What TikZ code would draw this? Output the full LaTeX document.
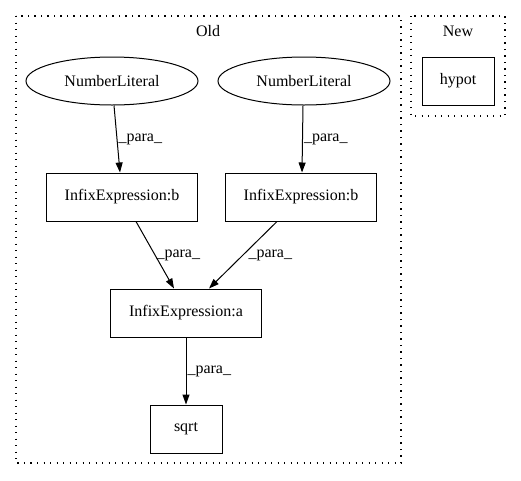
\documentclass[tikz,border=0pt]{standalone}
\usepackage{fontspec}
\setmainfont{Liberation Serif}
\usetikzlibrary{arrows.meta,shapes.geometric}

\begin{document}
\begin{tikzpicture}[x=1pt, y=-1pt, font=\fontsize{16}{18}\selectfont, line width=1pt,
    box/.style={draw, rectangle, minimum width=#1, minimum height=48pt, inner sep=0pt},
    lit/.style={draw, ellipse, minimum width=172pt, minimum height=48pt, inner sep=0pt},
    cluster/.style={draw, dash pattern=on 1.4pt off 5.1pt, line width=1.2pt},
    edge/.style={-{Triangle[length=10pt, width=7pt]}, line width=1pt},
    lbl/.style={midway, right, inner sep=1pt}]
    \useasboundingbox (0,0) rectangle (521,480);
    % clusters
    \draw[cluster] (16,16) rectangle (401,463);
    \draw[cluster] (411,16) rectangle (505,116);
    \node (old) at (208,31) {Old};
    \node (new) at (458,31) {New};

    \node[lit] (n1) at (112,81) {NumberLiteral};
    \node[lit] (n2) at (304,81) {NumberLiteral};
    \node[box=151pt] (b1) at (122,197) {InfixExpression:b};
    \node[box=151pt] (b2) at (301,197) {InfixExpression:b};
    \node[box=151pt] (a) at (186,313) {InfixExpression:a};
    \node[box=72pt] (sqrt) at (186,429) {sqrt};
    \node[box=72pt] (hypot) at (458,81) {hypot};

    \draw[edge] (n1.south -| 114,0) -- (b1.north -| 120,0) node[lbl] {\_para\_};
    \draw[edge] (n2.south -| 303,0) -- (b2.north -| 302,0) node[lbl] {\_para\_};
    \draw[edge] (b1.south -| 136,0) -- (a.north -| 174,0) node[lbl] {\_para\_};
    \draw[edge] (b2.south -| 277,0) -- (a.north -| 209,0) node[lbl, xshift=4pt] {\_para\_};
    \draw[edge] (a) -- (sqrt) node[lbl] {\_para\_};
\end{tikzpicture}
\end{document}
